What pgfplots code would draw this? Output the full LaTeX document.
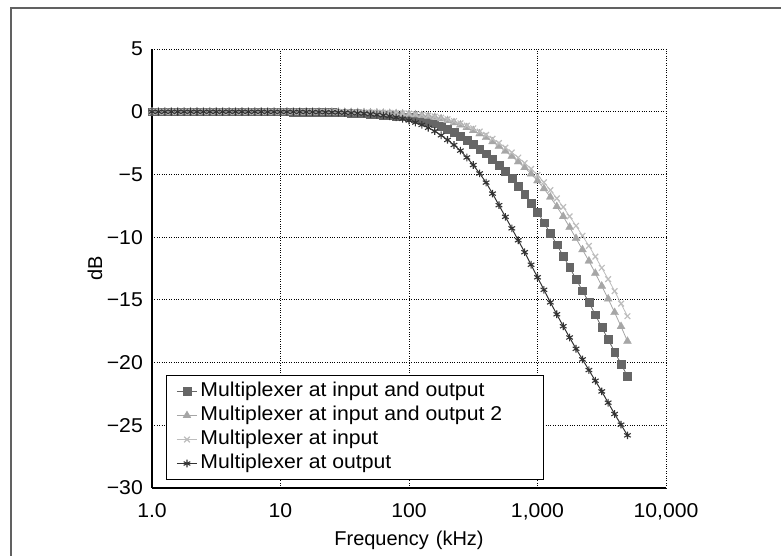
\documentclass[border=0pt]{standalone}
\usepackage{pgfplots}
\pgfplotsset{compat=1.18}
\usepackage{pgfplotstable}
\usepackage{fontspec}
\setmainfont{Liberation Sans}
\newfontfamily\widefont[FakeStretch=1.06]{Liberation Sans}
\definecolor{cA}{HTML}{666666}
\definecolor{cB}{HTML}{A6A6A6}
\definecolor{cC}{HTML}{BDBDBD}
\definecolor{cD}{HTML}{333333}
\pgfplotstableread{
f A B C D
1 0 0 0 0
1.122 0 0 0 0
1.259 0 0 0 0
1.413 0 0 0 0
1.585 0 0 0 0
1.778 0 0 0 0
1.995 0 0 0 0
2.239 0 0 0 0
2.512 0 0 0 0
2.818 0 0 0 0
3.162 0 0 0 0
3.548 0 0 0 0
3.981 0 0 0 0
4.467 0 0 0 0
5.012 0 0 0 0
5.623 0 0 0 0
6.310 0 0 0 0
7.079 0 0 0 0
7.943 0 0 0 -0.01
8.913 0 0 0 -0.01
10 0 0 0 -0.01
11.22 0 0 0 -0.01
12.59 -0.01 0 0 -0.01
14.13 -0.01 -0.01 0 -0.01
15.85 -0.02 -0.01 0 -0.02
17.78 -0.03 -0.01 0 -0.02
19.95 -0.04 -0.02 -0.01 -0.03
22.39 -0.05 -0.02 -0.01 -0.04
25.12 -0.06 -0.03 -0.02 -0.05
28.18 -0.07 -0.03 -0.02 -0.06
31.62 -0.08 -0.04 -0.03 -0.08
35.48 -0.10 -0.05 -0.03 -0.10
39.81 -0.12 -0.06 -0.04 -0.12
44.67 -0.15 -0.07 -0.05 -0.15
50.12 -0.18 -0.08 -0.06 -0.19
56.23 -0.21 -0.09 -0.07 -0.24
63.10 -0.25 -0.11 -0.08 -0.29
70.79 -0.29 -0.13 -0.09 -0.36
79.43 -0.34 -0.15 -0.11 -0.45
89.13 -0.39 -0.17 -0.13 -0.56
100 -0.45 -0.20 -0.15 -0.70
112.2 -0.54 -0.24 -0.19 -0.86
125.9 -0.65 -0.30 -0.24 -1.05
141.3 -0.79 -0.37 -0.30 -1.28
158.5 -0.95 -0.45 -0.38 -1.55
177.8 -1.16 -0.56 -0.48 -1.88
199.5 -1.40 -0.70 -0.60 -2.25
223.9 -1.66 -0.87 -0.75 -2.65
251.2 -1.95 -1.05 -0.92 -3.10
281.8 -2.27 -1.26 -1.11 -3.65
316.2 -2.60 -1.50 -1.33 -4.25
354.8 -2.97 -1.76 -1.58 -4.92
398.1 -3.35 -2.05 -1.85 -5.65
446.7 -3.79 -2.39 -2.16 -6.53
501.2 -4.25 -2.75 -2.50 -7.45
562.3 -4.76 -3.14 -2.86 -8.38
631.0 -5.30 -3.55 -3.25 -9.30
707.9 -5.91 -3.99 -3.66 -10.25
794.3 -6.55 -4.45 -4.10 -11.20
891.3 -7.26 -4.96 -4.56 -12.20
1000 -8.00 -5.50 -5.05 -13.20
1122 -8.84 -6.13 -5.63 -14.20
1259 -9.70 -6.80 -6.25 -15.20
1413 -10.60 -7.56 -6.91 -16.15
1585 -11.50 -8.35 -7.60 -17.10
1778 -12.42 -9.21 -8.34 -18.00
1995 -13.35 -10.10 -9.10 -18.90
2239 -14.27 -11.00 -9.89 -19.75
2512 -15.20 -11.90 -10.70 -20.60
2818 -16.18 -12.88 -11.55 -21.45
3162 -17.20 -13.90 -12.45 -22.30
3548 -18.15 -14.92 -13.35 -23.20
3981 -19.15 -16.00 -14.30 -24.10
4467 -20.10 -17.12 -15.30 -24.95
5012 -21.10 -18.30 -16.30 -25.80
}\data
\begin{document}
\begin{tikzpicture}[x=1pt,y=1pt]
\path[use as bounding box] (0,0) rectangle (781,-556);
\draw[color=black!62, line width=1.6pt] (11,-560) -- (11,-8) -- (785,-8);
\begin{axis}[
  at={(152pt,-488pt)}, anchor=south west,
  scale only axis, width=514pt, height=439pt,
  xmode=log, xmin=1, xmax=10000, ymin=-30, ymax=5,
  xtick={1,10,100,1000,10000},
  xticklabels={1.0,10,100,{1,000},{10,000}},
  ytick={-30,-25,-20,-15,-10,-5,0,5},
  yticklabels={−30,−25,−20,−15,−10,−5,0,5},
  xminorticks=false, yminorticks=false,
  major tick length=0pt,
  grid=major,
  grid style={dotted, black, line width=0.8pt},
  axis x line*=bottom, axis y line*=left,
  axis line style={-, black, line width=1.2pt},
  tick label style={font=\widefont\fontsize{20}{24}\selectfont, inner sep=0pt},
  yticklabel style={anchor=east, xshift=-9pt},
  xticklabel style={anchor=north, yshift=-15pt},
  label style={font=\fontsize{20}{24}\selectfont},
  xlabel={Frequency\hspace{0.35em}(kHz)},
  ylabel={dB},
  xlabel style={at={(axis description cs:0.5,0)}, anchor=base, yshift=-57pt, inner sep=0pt},
  ylabel style={at={(axis description cs:0,0.5)}, anchor=center, yshift=57pt, inner sep=0pt},
  clip=false,
  legend cell align=left,
  legend image code/.code={\draw[mark repeat=2,mark phase=2] plot coordinates {(0pt,0pt)(10pt,0pt)(20pt,0pt)};},
  legend style={at={(axis description cs:0.0272,0.0182)}, anchor=south west,
    draw=black, line width=1pt, inner xsep=10pt, inner ysep=4pt,
    font=\widefont\fontsize{20}{24}\selectfont,
    nodes={inner xsep=3pt, inner ysep=0pt, text height=17pt, text depth=7pt},
    row sep=0pt},
]
\addplot[color=cA, line width=0.8pt, mark=square*, mark size=3.9pt, mark options={solid, line width=0.3pt, fill=cA}] table[x=f,y=A]{\data};
\addplot[color=cB, line width=0.8pt, mark=triangle*, mark size=4.6pt, mark options={solid, line width=0.3pt, fill=cB}] table[x=f,y=B]{\data};
\addplot[color=cC, line width=0.8pt, mark=x, mark size=4pt, mark options={solid, line width=1.2pt}] table[x=f,y=C]{\data};
\addplot[color=cD, line width=1pt, mark=asterisk, mark size=3.8pt, mark options={solid, line width=1.1pt}] table[x=f,y=D]{\data};
\legend{\makebox[330pt][l]{Multiplexer at input and output},
        \makebox[330pt][l]{Multiplexer at input and output 2},
        \makebox[330pt][l]{Multiplexer at input},
        \makebox[330pt][l]{Multiplexer at output}}
\end{axis}
\end{tikzpicture}
\end{document}
